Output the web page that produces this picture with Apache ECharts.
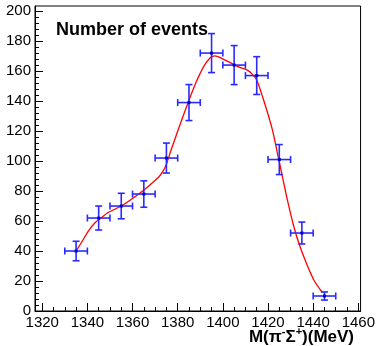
<!DOCTYPE html>
<html>
<head>
<meta charset="utf-8">
<script src="https://cdn.jsdelivr.net/npm/echarts@6/dist/echarts.min.js"></script>
<style>
* { margin: 0; padding: 0; }
#chart { width: 378px; height: 346px; }
</style>
</head>
<body>
<div id="chart"></div>
<script>
// measured bins: centre (MeV), counts, error on counts
var binCenters = [1335, 1345, 1355, 1365, 1375, 1385, 1395, 1405, 1415, 1425, 1435, 1445];
var counts     = [40, 62, 70, 78, 102, 139, 172, 164, 157, 101, 52, 10];
var countErrs  = [6.5, 8, 8.5, 8.8, 10, 12, 13, 13, 12.6, 10, 7.3, 2.7];
var binHalfWidth = 5;

// fit curve
var fitX = [1335, 1337.5, 1340.5, 1343.5, 1346, 1349, 1355, 1359.5, 1364.5, 1368, 1372, 1374.5, 1377,
            1380.5, 1384.5, 1388, 1391.5, 1394.5, 1396.5, 1399.5, 1404, 1407.5, 1411, 1413, 1415,
            1418.5, 1422, 1424.2, 1426.4, 1428.6, 1431.5, 1433.7, 1436.7, 1440.3, 1444];
var fitY = [40, 46, 53.5, 59, 62, 65.5, 70, 74.5, 80, 84.5, 90, 96, 107,
            122, 138.5, 152, 163, 169, 170.2, 168.5, 165, 162.5, 160.5, 158, 154,
            138.5, 120.5, 105, 89.5, 74, 56, 45, 33, 20.7, 12.5];

var xTicks = [1320, 1340, 1360, 1380, 1400, 1420, 1440, 1460];
var xMinor = [1325, 1330, 1335, 1345, 1350, 1355, 1365, 1370, 1375, 1385, 1390, 1395,
              1405, 1410, 1415, 1425, 1430, 1435, 1445, 1450, 1455];
var yTicks = [0, 20, 40, 60, 80, 100, 120, 140, 160, 180, 200];
var yMinor = [];
for (var i = 0; i < 200; i += 20) {
  yMinor.push(i + 4, i + 8, i + 12, i + 16);
}

var font = "'Liberation Sans', Arial, Helvetica, sans-serif";
var xMin = 1316.8, xMax = 1461, yMin = 0, yMax = 203.4;

var errData = binCenters.map(function (x, k) { return [x, counts[k], countErrs[k]]; });
var fitData = fitX.map(function (x, k) { return [x, fitY[k]]; });

var chartDom = document.getElementById('chart');
var myChart = echarts.init(chartDom);

var option = {
  animation: false,
  grid: {
    left: 35, right: 16, top: 6, bottom: 35,
    show: true, borderColor: '#000', borderWidth: 1, backgroundColor: 'transparent'
  },
  xAxis: [
    {
      type: 'value', min: xMin, max: xMax,
      axisLine: { lineStyle: { color: '#000', width: 1 } },
      axisTick: { inside: true, length: 8, customValues: xTicks, lineStyle: { color: '#000' } },
      axisLabel: {
        customValues: xTicks, color: '#000', fontSize: 15, fontFamily: font, margin: 4,
        formatter: function (v) { return String(v); }
      },
      splitLine: { show: false }
    },
    {
      type: 'value', min: xMin, max: xMax, position: 'bottom',
      axisLine: { show: false },
      axisTick: { inside: true, length: 4, customValues: xMinor, lineStyle: { color: '#000' } },
      axisLabel: { show: false },
      splitLine: { show: false }
    }
  ],
  yAxis: [
    {
      type: 'value', min: yMin, max: yMax,
      axisLine: { show: true, lineStyle: { color: '#000', width: 1 } },
      axisTick: { show: true, inside: true, length: 8, customValues: yTicks, lineStyle: { color: '#000' } },
      axisLabel: { customValues: yTicks, color: '#000', fontSize: 15, fontFamily: font, margin: 4 },
      splitLine: { show: false }
    },
    {
      type: 'value', min: yMin, max: yMax, position: 'left',
      axisLine: { show: false },
      axisTick: { show: true, inside: true, length: 4, customValues: yMinor, lineStyle: { color: '#000' } },
      axisLabel: { show: false },
      splitLine: { show: false }
    }
  ],
  graphic: [
    {
      type: 'text', left: 56, top: 21,
      style: { text: 'Number of events', fill: '#000', font: 'bold 18px ' + font }
    },
    {
      type: 'text', right: 24, top: 326,
      style: {
        text: '{n|M(π}{s|-}{n|Σ}{s|+}{n|)(MeV)}',
        rich: {
          n: { fill: '#000', fontSize: 17, fontWeight: 'bold', fontFamily: font, verticalAlign: 'bottom' },
          s: { fill: '#000', fontSize: 11, fontWeight: 'bold', fontFamily: font, verticalAlign: 'top', padding: [0, 0, 9, 0] }
        }
      }
    }
  ],
  series: [
    {
      name: 'fit',
      type: 'line',
      data: fitData,
      smooth: 0.3,
      symbol: 'none',
      lineStyle: { color: '#ff0000', width: 1.3 },
      z: 3
    },
    {
      name: 'data',
      type: 'custom',
      data: errData,
      z: 4,
      renderItem: function (params, api) {
        var x = api.value(0), y = api.value(1), e = api.value(2);
        var c = api.coord([x, y]);
        var l = api.coord([x - binHalfWidth, y]);
        var r = api.coord([x + binHalfWidth, y]);
        var t = api.coord([x, y + e]);
        var b = api.coord([x, y - e]);
        var st = { stroke: '#2a2aff', lineWidth: 1.6 };
        var cap = 3.5;
        function seg(x1, y1, x2, y2) {
          return { type: 'line', shape: { x1: x1, y1: y1, x2: x2, y2: y2 }, style: st };
        }
        return {
          type: 'group',
          children: [
            seg(l[0], l[1], r[0], r[1]),
            seg(t[0], t[1], b[0], b[1]),
            seg(l[0], l[1] - cap, l[0], l[1] + cap),
            seg(r[0], r[1] - cap, r[0], r[1] + cap),
            seg(t[0] - cap, t[1], t[0] + cap, t[1]),
            seg(b[0] - cap, b[1], b[0] + cap, b[1]),
            { type: 'rect', shape: { x: c[0] - 1.5, y: c[1] - 1.5, width: 3, height: 3 }, style: { fill: '#0000cc' } }
          ]
        };
      }
    }
  ]
};

myChart.setOption(option);
</script>
</body>
</html>
